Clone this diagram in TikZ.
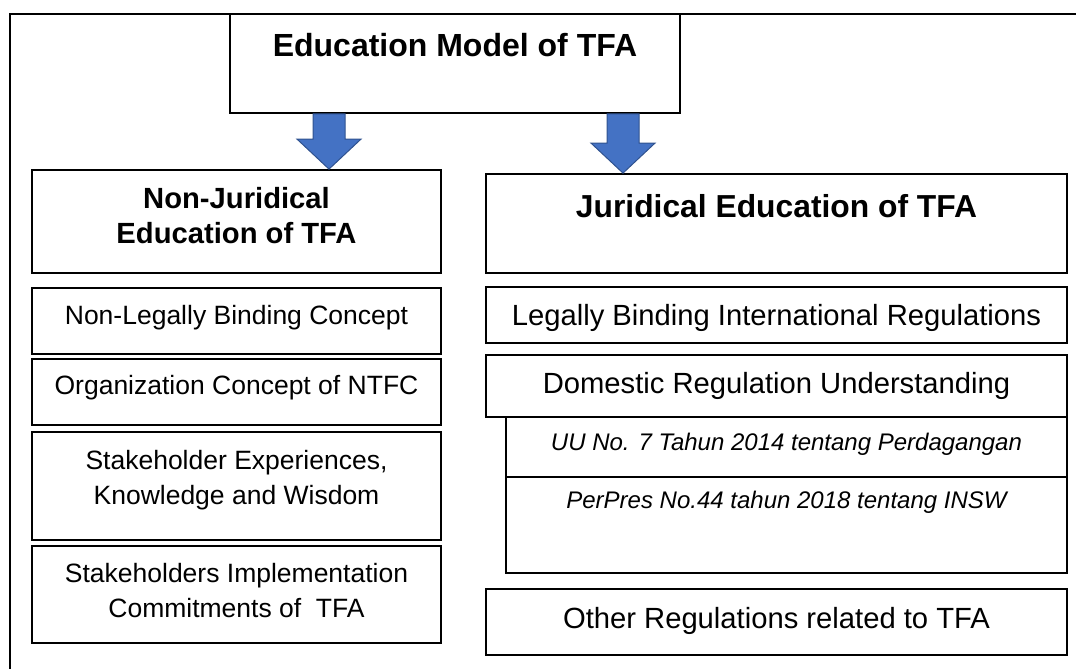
\documentclass[tikz,border=0pt]{standalone}
\usepackage{fontspec}
\setmainfont{Liberation Sans}
\usetikzlibrary{calc}

\definecolor{arrowblue}{HTML}{4472C4}
\definecolor{arrowedge}{HTML}{2F528F}

\tikzset{
  box/.style={draw, line width=1.8pt, inner sep=0pt},
  lbl/.style={inner sep=0pt, align=center},
  blockarrow/.style={fill=arrowblue, draw=arrowedge, line width=1pt},
}

% block arrow pointing down: x position, from node, to node
\newcommand{\blockdown}[3]{%
  \filldraw[blockarrow] let \p1=(#2.south), \p2=(#3.north) in
    (#1pt-16pt,\y1) -- (#1pt+16pt,\y1) -- (#1pt+16pt,\y2+30pt) -- (#1pt+32pt,\y2+30pt)
    -- (#1pt,\y2) -- (#1pt-32pt,\y2+30pt) -- (#1pt-16pt,\y2+30pt) -- cycle;}

\begin{document}
\begin{tikzpicture}[x=1pt,y=-1pt]
\useasboundingbox (0,0) rectangle (1076,669);

% Outer frame
\draw[line width=2.2pt] (1090,14) -- (10,14) -- (10,690);

% Top box
\node[box, minimum width=450, minimum height=99] (model) at (455,63.5) {};
\node[lbl, font=\fontsize{32}{38}\bfseries\selectfont] (modeltxt) at (455,45) {Education Model of TFA};

% Left column
\node[box, minimum width=409, minimum height=103] (nonjur) at (236.5,221.5) {};
\node[lbl, font=\fontsize{29.2}{35}\bfseries\selectfont] (nonjurtxt) at (236.5,215.5) {Non-Juridical\\Education of TFA};

\node[box, minimum width=409, minimum height=66] (nonbind) at (236.5,321) {};
\node[lbl, font=\fontsize{26.5}{35}\selectfont] (nonbindtxt) at (236.5,318) {Non-Legally Binding Concept};

\node[box, minimum width=409, minimum height=66] (ntfc) at (236.5,392) {};
\node[lbl, font=\fontsize{26.5}{35}\selectfont] (ntfctxt) at (236.5,388) {Organization Concept of NTFC};

\node[box, minimum width=409, minimum height=108] (wisdom) at (236.5,486) {};
\node[lbl, font=\fontsize{26.5}{35}\selectfont] (wisdomtxt) at (236.5,480) {Stakeholder Experiences,\\Knowledge and Wisdom};

\node[box, minimum width=409, minimum height=97] (commit) at (236.5,594.5) {};
\node[lbl, font=\fontsize{26.5}{35}\selectfont] (committxt) at (236.5,591) {Stakeholders Implementation\\Commitments of~~TFA};

% Right column
\node[box, minimum width=581, minimum height=99] (jur) at (776.5,223.5) {};
\node[lbl, font=\fontsize{31.8}{38}\bfseries\selectfont] (jurtxt) at (776.5,206) {Juridical Education of TFA};

\node[box, minimum width=581, minimum height=56] (intl) at (776.5,315) {};
\node[lbl, font=\fontsize{29.2}{35}\selectfont] (intltxt) at (776.5,318) {Legally Binding International Regulations};

\node[box, minimum width=581, minimum height=62] (domestic) at (776.5,386) {};
\node[lbl, font=\fontsize{29.2}{35}\selectfont] (domestictxt) at (776.5,386) {Domestic Regulation Understanding};

\node[box, minimum width=561, minimum height=60] (uu) at (786.5,447) {};
\node[lbl, font=\fontsize{24}{29}\itshape\selectfont] (uutxt) at (786.5,444) {UU No. 7 Tahun 2014 tentang Perdagangan};

\node[box, minimum width=561, minimum height=96] (perpres) at (786.5,525) {};
\node[lbl, font=\fontsize{24}{29}\itshape\selectfont] (perprestxt) at (786.5,502) {PerPres No.44 tahun 2018 tentang INSW};

\node[box, minimum width=581, minimum height=66] (other) at (776.5,622) {};
\node[lbl, font=\fontsize{29.2}{35}\selectfont] (othertxt) at (776.5,621) {Other Regulations related to TFA};

% Arrows
\blockdown{329}{model}{nonjur}
\blockdown{623}{model}{jur}
\end{tikzpicture}
\end{document}
